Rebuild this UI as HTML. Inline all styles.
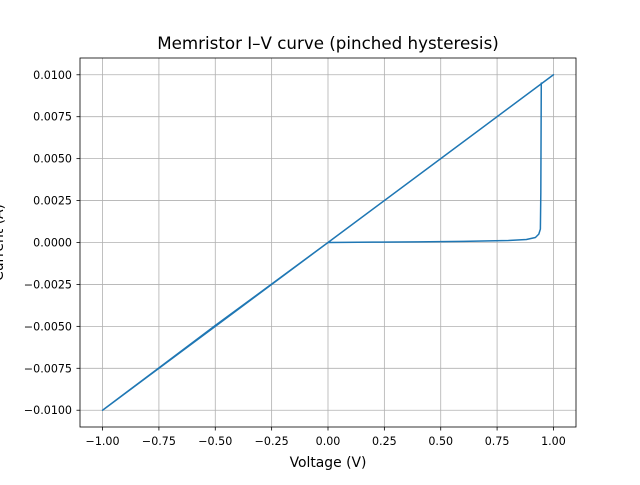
<!DOCTYPE html>
<html><head><meta charset="utf-8"><style>
body{margin:0;background:#fff;font-family:"Liberation Sans","DejaVu Sans",sans-serif}
svg text{font-family:"DejaVu Sans","Liberation Sans",sans-serif}
</style></head><body>
<svg id="chart" width="640" height="480" viewBox="0 0 640 480" xmlns="http://www.w3.org/2000/svg">
<rect width="640" height="480" fill="#fff"/>
<g id="grid"></g>
<g id="series"></g>
<rect x="80" y="58" width="496" height="369" fill="none" stroke="#000" stroke-width="0.8"/>
<g id="ticks"></g>
<text x="328" y="49" font-size="16.7" text-anchor="middle">Memristor I–V curve (pinched hysteresis)</text>
<text x="328" y="467" font-size="13.9" text-anchor="middle">Voltage (V)</text>
<text transform="translate(3,242.5) rotate(-90)" font-size="13.9" text-anchor="middle">Current (A)</text>
</svg>
<script>
const xTicks=[-1,-0.75,-0.5,-0.25,0,0.25,0.5,0.75,1];
const xTickLabels=["−1.00","−0.75","−0.50","−0.25","0.00","0.25","0.50","0.75","1.00"];
const yTicks=[-0.01,-0.0075,-0.005,-0.0025,0,0.0025,0.005,0.0075,0.01];
const yTickLabels=["−0.0100","−0.0075","−0.0050","−0.0025","0.0000","0.0025","0.0050","0.0075","0.0100"];
const voltage=[0,0.2,0.4,0.6,0.8,0.88,0.92,0.935,0.942,0.944,0.946,0.95,1,0.5,0,-0.5,-1,-0.5,0];
const current=[0,0.00002,0.00004,0.00007,0.00012,0.00018,0.0003,0.0005,0.0008,0.003,0.0095,0.0095,0.01,0.005,0,-0.005,-0.01,-0.00495,0];
const X=v=>80+(v+1.1)/2.2*496;
const Y=i=>242.5-i/0.022*369;
const NS="http://www.w3.org/2000/svg";
const grid=document.getElementById('grid'),ticks=document.getElementById('ticks'),series=document.getElementById('series');
function mk(tag,attrs,parent){const e=document.createElementNS(NS,tag);for(const k in attrs)e.setAttribute(k,attrs[k]);parent.appendChild(e);return e;}
xTicks.forEach((v,k)=>{
 const g=mk('line',{x1:X(v),x2:X(v),y1:58,y2:427,stroke:'#b0b0b0','stroke-width':0.8},grid);
 
 
 const t=mk('line',{x1:X(v),x2:X(v),y1:427,y2:430.5,stroke:'#000','stroke-width':0.8},ticks);
 
 
 const l=mk('text',{x:X(v),y:445,'font-size':11.1,'text-anchor':'middle'},ticks);
 l.textContent=xTickLabels[k];
 
 
});
yTicks.forEach((v,k)=>{
 const g=mk('line',{x1:80,x2:576,y1:Y(v),y2:Y(v),stroke:'#b0b0b0','stroke-width':0.8},grid);
 
 
 const t=mk('line',{x1:76.5,x2:80,y1:Y(v),y2:Y(v),stroke:'#000','stroke-width':0.8},ticks);
 
 
 const l=mk('text',{x:72,y:Y(v)+4,'font-size':11.1,'text-anchor':'end'},ticks);
 l.textContent=yTickLabels[k];
 
 
});
const pts=voltage.map((v,k)=>X(v).toFixed(2)+','+Y(current[k]).toFixed(2)).join(' ');
const pl=mk('polyline',{points:pts,fill:'none',stroke:'#1f77b4','stroke-width':1.5,'stroke-linejoin':'round'},series);


</script>
</body></html>
